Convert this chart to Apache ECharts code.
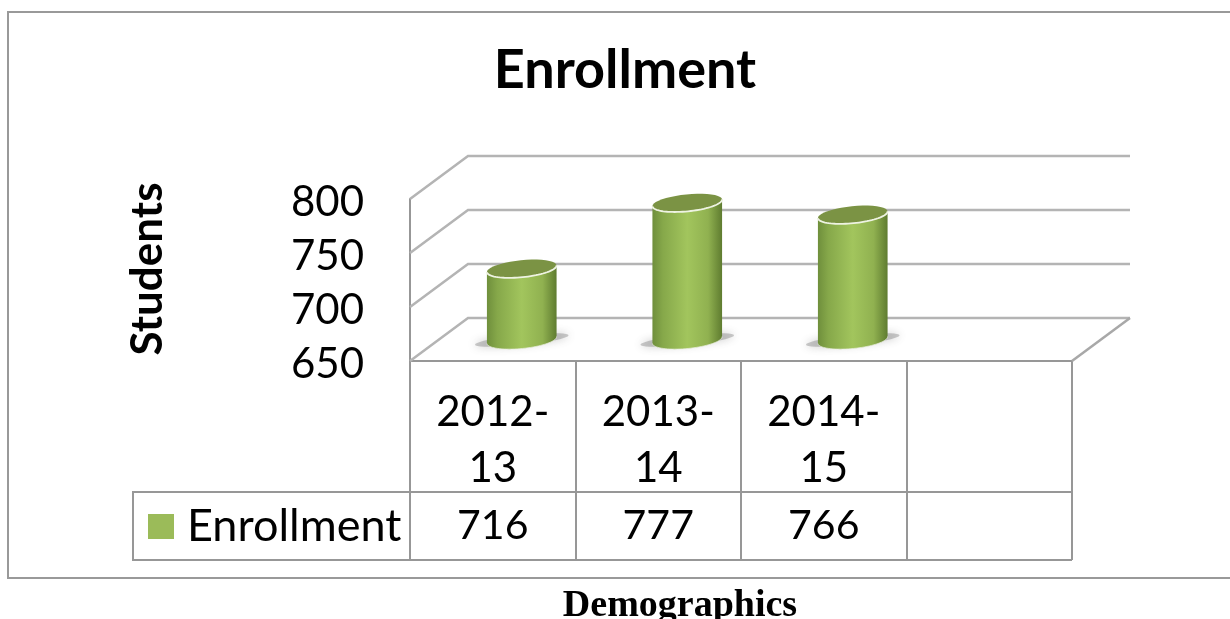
<!DOCTYPE html>
<html>
<head>
<meta charset="utf-8">
<style>html,body{margin:0;padding:0;background:#fff}#c{width:1230px;height:619px}</style>
<script src="https://cdn.jsdelivr.net/npm/echarts@6/dist/echarts.min.js"></script>
</head>
<body>
<div id="c"></div>
<script>
const titleText = 'Enrollment';
const seriesName = 'Enrollment';
const yAxisName = 'Students';
const caption = 'Demographics';
const categories = ['2012-\n13', '2013-\n14', '2014-\n15', ''];
const values = [716, 777, 766];
const yTicks = [650, 700, 750, 800];

const SANS = 'Lato, Carlito, "Open Sans", sans-serif';
const LINE = '#979797';
const DX = 58, DY = 43;
const RX = 35, RY = 8.5, TILT = -0.1;

function arc(cx, cy, from, to, rx, ry) {
  rx = rx || RX; ry = ry || RY;
  const pts = [], n = 40;
  for (let i = 0; i <= n; i++) {
    const a = from + (to - from) * i / n;
    const x = rx * Math.cos(a), y = ry * Math.sin(a);
    pts.push([cx + x * Math.cos(TILT) - y * Math.sin(TILT), cy + x * Math.sin(TILT) + y * Math.cos(TILT)]);
  }
  return pts;
}

function renderWall(params, api) {
  const cs = params.coordSys;
  const p = api.coord([0, api.value(0)]);
  const x0 = cs.x, y = p[1];
  const right = cs.x + cs.width;
  const children = [{
    type: 'polyline', silent: true,
    shape: { points: [[x0, y], [x0 + DX, y - DY], [right + DX, y - DY]] },
    style: { fill: null, stroke: '#b4b4b4', lineWidth: 2.5 }
  }];
  if (params.dataIndex === 0) {
    children.push({
      type: 'line', silent: true,
      shape: { x1: right, y1: y, x2: right + DX, y2: y - DY },
      style: { stroke: '#a8a8a8', lineWidth: 2.5 }
    });
  }
  return { type: 'group', children };
}

function renderBar(params, api) {
  const base = api.coord([api.value(0), yTicks[0]]);
  const top = api.coord([api.value(0), api.value(1)]);
  const cx = base[0] + DX / 2;
  const by = base[1] - DY / 2 + 0.5;
  const ty = top[1] - DY / 2 + 0.5;
  const lower = arc(cx, by, Math.PI, 0);
  const upper = arc(cx, ty, 0, Math.PI);
  return {
    type: 'group',
    children: [
      {
        type: 'polygon', silent: true,
        shape: { points: arc(cx, by, 0, Math.PI * 2, 47, 5) },
        style: { fill: 'rgba(110,110,110,0.35)', shadowBlur: 8, shadowColor: 'rgba(80,80,80,0.85)' }
      },
      {
        type: 'polygon',
        shape: { points: upper.slice().reverse().concat(lower.slice().reverse()).reverse() },
        style: {
          fill: {
            type: 'linear', x: 0, y: 0, x2: 1, y2: 0,
            colorStops: [
              { offset: 0, color: '#6f8f3c' },
              { offset: 0.15, color: '#86a84a' },
              { offset: 0.5, color: '#a2c55d' },
              { offset: 0.8, color: '#90b150' },
              { offset: 1, color: '#5f7c30' }
            ]
          },
          stroke: null
        }
      },
      {
        type: 'polygon', silent: true,
        shape: { points: arc(cx, ty, 0, Math.PI * 2) },
        style: { fill: '#7b9344', stroke: null }
      },
      {
        type: 'polyline', silent: true,
        shape: { points: arc(cx, ty, 0, Math.PI) },
        style: { fill: null, stroke: '#eef3e2', lineWidth: 1.8 }
      },
      {
        type: 'polyline', silent: true,
        shape: { points: lower },
        style: { fill: null, stroke: 'rgba(235,240,225,0.7)', lineWidth: 1 }
      }
    ]
  };
}

function renderValueCell(params, api) {
  const p = api.coord([api.value(0), yTicks[0]]);
  return {
    type: 'text', silent: true,
    style: {
      x: p[0], y: p[1] + 165,
      text: String(api.value(1)),
      font: '41px ' + SANS,
      fill: '#000', align: 'center', verticalAlign: 'middle'
    }
  };
}

const barData = values.map((v, i) => [i, v]);
const chart = echarts.init(document.getElementById('c'), null, { renderer: 'canvas' });
chart.setOption({
  animation: false,
  backgroundColor: '#fff',
  textStyle: { fontFamily: SANS },
  title: {
    text: titleText, left: 620, top: 39, textAlign: 'center',
    textStyle: { fontFamily: SANS, fontSize: 54, fontWeight: 'bold', color: '#000' }
  },
  legend: {
    show: true, left: 148, top: 504, padding: 0,
    itemWidth: 26, itemHeight: 25, itemGap: 0,
    data: [{ name: seriesName, icon: 'rect', itemStyle: { color: '#9bbb59' } }],
    textStyle: { fontFamily: SANS, fontSize: 45, color: '#000', padding: [0, 0, 0, 8] }
  },
  grid: { left: 410, top: 199, width: 662, height: 162, containLabel: false },
  xAxis: {
    type: 'category', data: categories, boundaryGap: true,
    axisLine: { show: true, lineStyle: { color: LINE, width: 2 } },
    axisTick: { show: true, inside: false, length: 199, alignWithLabel: false, lineStyle: { color: LINE, width: 2 } },
    axisLabel: { show: true, interval: 0, margin: 23, fontFamily: SANS, fontSize: 42, lineHeight: 56, color: '#000', align: 'center' },
    splitLine: { show: false }
  },
  yAxis: {
    type: 'value', min: 650, max: 800, interval: 50,
    name: yAxisName, nameLocation: 'middle', nameGap: 240, nameRotate: 90,
    nameTextStyle: { fontFamily: SANS, fontSize: 44, fontWeight: 'bold', color: '#000', padding: [0, 0, 0, 22] },
    axisLine: { show: true, lineStyle: { color: LINE, width: 2 } },
    axisTick: { show: false },
    axisLabel: { margin: 46, fontFamily: SANS, fontSize: 42, color: '#000', verticalAlign: 'top', lineHeight: 7 },
    splitLine: { show: false }
  },
  series: [
    { type: 'custom', name: 'walls', renderItem: renderWall, data: yTicks.map(v => [v]), encode: { y: 0 }, clip: false, silent: true, z: 1, tooltip: { show: false } },
    { type: 'custom', name: seriesName, renderItem: renderBar, data: barData, encode: { x: 0, y: 1 }, clip: false, itemStyle: { color: '#9bbb59' }, z: 3 },
    { type: 'custom', name: 'table', renderItem: renderValueCell, data: barData, encode: { x: 0, y: 1 }, clip: false, silent: true, z: 4 }
  ],
  graphic: [
    { type: 'polyline', silent: true, shape: { points: [[1230, 12], [8, 12], [8, 578], [1230, 578]] }, style: { fill: null, stroke: '#999', lineWidth: 2 } },
    { type: 'polyline', silent: true, shape: { points: [[1072, 492], [133, 492], [133, 560], [1072, 560]] }, style: { fill: null, stroke: LINE, lineWidth: 2 } },
    { type: 'text', silent: true, x: 680, y: 606, style: { text: caption, font: 'bold 38px "Liberation Serif", serif', fill: '#000', align: 'center', verticalAlign: 'middle' } }
  ]
});
</script>
</body>
</html>
